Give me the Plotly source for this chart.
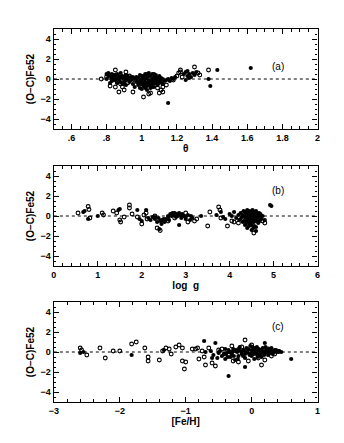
import plotly.graph_objects as go

# Panel (a): theta vs residual
a_fill_x = [0.80,0.81,0.82,0.83,0.83,0.84,0.85,0.85,0.86,0.86,0.87,0.87,0.88,0.88,0.89,0.89,0.90,0.90,0.91,0.91,0.92,0.93,0.94,0.94,0.95,0.96,0.96,
            0.97,0.98,0.98,0.99,0.99,1.00,1.00,1.00,1.01,1.01,1.02,1.02,1.02,1.03,1.03,1.03,1.04,1.04,1.04,1.05,1.05,1.05,1.06,1.06,1.06,1.07,1.07,1.07,1.08,1.08,1.09,1.09,1.10,1.10,1.11,1.12,1.13,1.14,1.15,1.16,1.17,1.18,1.19,1.15,
            1.24,1.25,1.25,1.26,1.26,1.27,1.27,1.28,1.29,1.30,1.31,1.38,1.39,1.43,1.62,
            0.80,0.81,0.82,0.83,0.84,0.84,0.85,0.86,0.87,0.88,0.89,0.90,0.91,0.92,0.93,0.95,0.97,0.98,0.99,1.00,1.01,1.01,1.02,1.03,1.04,1.05,1.06,1.07,1.08,1.09,1.10,1.11,1.12,1.00,1.02,1.04,1.06,1.08,0.99,1.03]
a_fill_y = [0.5,0.6,0.3,0.1,-0.2,0.4,0.2,-0.1,-0.4,0.5,0.0,0.3,-0.3,0.6,0.1,-0.5,0.2,-0.2,0.4,-0.6,0.0,-0.3,-0.1,0.2,-0.5,0.0,-0.8,
            -0.3,-0.6,0.1,-0.9,-0.2,0.3,-0.5,-1.0,0.0,-0.7,0.5,-0.3,-0.9,0.2,-0.4,-1.1,0.6,-0.1,-0.6,0.3,-0.3,-0.9,0.5,0.0,-0.5,0.2,-0.2,-0.8,0.4,-0.4,0.1,-0.6,0.3,-0.1,-0.3,0.0,-0.2,-0.1,0.0,-0.2,0.1,0.0,0.2,-2.4,
            0.5,0.7,-0.1,0.3,0.8,0.1,0.5,0.2,0.6,0.4,0.7,0.0,-0.7,0.9,1.1,
            0.0,0.3,-0.4,0.5,-0.1,0.2,0.4,0.1,-0.2,0.2,0.3,-0.4,0.0,0.3,0.1,0.2,0.2,-0.1,-0.5,-0.2,0.3,-0.4,0.0,-0.7,0.3,-0.6,-0.2,0.5,-0.1,-0.3,-0.4,0.1,-0.5,0.0,-0.6,-0.3,-0.8,0.1,0.4,0.5]
a_open_x = [0.77,0.80,0.82,0.83,0.85,0.85,0.86,0.87,0.88,0.89,0.90,0.91,0.92,0.93,0.95,0.96,0.99,1.01,1.02,1.04,1.05,1.07,1.09,1.10,1.11,1.12,1.12,1.14,1.18,1.20,1.21,1.22,1.22,1.23,1.30,1.32,1.33,1.38]
a_open_y = [0.0,0.2,-0.7,0.0,0.9,-0.8,-0.3,-1.3,-0.5,-0.8,-1.1,0.7,-0.4,0.3,-1.3,-0.1,-0.4,-1.8,-0.7,-1.5,-1.4,-0.4,-0.9,-1.4,-1.1,-0.8,-1.3,-0.6,-0.1,0.3,0.6,0.9,0.7,0.2,1.2,0.6,0.4,0.9]

# Panel (b): log g vs residual
b_fill_x = [0.67,0.70,0.78,1.0,1.47,1.50,1.90,1.95,2.0,2.1,2.15,2.2,2.25,2.3,2.35,2.38,2.4,2.42,2.45,2.5,2.52,2.55,2.6,2.62,2.65,2.68,2.7,2.72,2.75,2.78,2.8,2.82,2.85,2.85,2.88,2.9,2.92,2.95,3.0,3.05,3.1,3.12,3.15,3.35,
            3.7,3.8,3.85,3.9,4.0,4.05,4.1,4.15,4.2,4.22,4.25,4.28,4.3,4.32,4.34,4.35,4.36,4.38,4.4,4.4,4.42,4.43,4.45,4.45,4.47,4.48,4.5,4.5,4.52,4.53,4.55,4.56,4.57,4.6,4.6,4.62,4.63,4.65,4.67,4.7,4.72,4.75,4.8,4.92,4.95,
            4.25,4.3,4.33,4.35,4.38,4.4,4.42,4.44,4.46,4.48,4.5,4.52,4.54,4.56,4.58,4.6,4.62,4.64,4.66,4.68,4.7,4.45,4.5,4.55,4.4,4.35,4.6,4.65,4.5,4.55,
            2.3,2.5,2.7,2.8,2.9,3.0,2.45,2.6]
b_fill_y = [0.4,0.5,-0.3,0.0,0.6,0.7,0.6,-0.3,-0.5,0.6,-0.2,-0.4,-0.1,-0.3,-0.6,-0.2,-1.3,-0.5,-0.8,-0.3,-0.6,-0.3,0.0,-0.4,0.2,0.0,0.3,0.1,0.3,-0.1,0.2,0.0,-0.9,0.3,0.1,-0.2,0.2,0.0,-0.3,0.1,-0.4,0.0,-0.2,0.0,
            0.1,0.4,-0.1,-0.3,0.2,0.0,0.4,-0.2,0.1,-0.4,0.3,-0.1,-0.6,0.5,0.0,-0.9,-0.3,0.2,-1.2,0.6,-0.5,0.1,-0.1,-0.8,0.4,-0.3,-1.4,0.0,0.6,-0.6,0.2,-1.0,-0.2,-1.5,0.5,-0.4,0.1,-0.7,0.3,-0.1,-0.3,0.0,-0.4,1.1,1.0,
            -0.3,0.1,-0.5,0.4,-0.7,-0.2,0.3,-1.0,0.0,-0.6,0.3,-0.3,-1.2,0.4,-0.5,-0.1,0.3,-0.2,0.1,-0.5,0.2,0.5,-0.9,-0.6,-0.5,-0.1,-1.1,-0.4,-0.2,0.0,
            -0.1,-0.5,0.2,0.1,0.1,-0.1,-0.4,-0.1]
b_open_x = [0.55,0.78,0.80,0.82,1.1,1.13,1.35,1.43,1.5,1.52,1.6,1.72,1.72,1.78,1.9,2.0,2.05,2.1,2.12,2.3,2.35,2.42,2.6,2.75,3.0,3.05,3.2,3.25,3.5,3.55,3.75,3.78,3.8,3.95,4.05,4.1,4.2,4.3,4.4,4.55,4.65,4.7,4.75,4.8]
b_open_y = [0.3,0.95,0.65,-0.2,0.3,0.1,0.5,0.3,-0.4,-0.6,-0.1,1.1,0.8,0.2,-0.1,-0.8,0.1,0.3,-0.3,0.0,-1.2,-1.45,-0.5,-0.2,0.3,-0.6,-0.5,-0.3,-1.0,0.4,0.9,0.6,-0.2,-1.0,-0.5,-0.6,-0.7,0.3,-0.2,-1.7,-0.5,-0.2,-0.5,-0.7]

# Panel (c): [Fe/H] vs residual
c_fill_x = [-2.6,-2.55,-1.82,-1.33,-0.72,-0.7,-0.62,-0.6,-0.55,-0.5,-0.45,-0.4,-0.38,-0.35,-0.35,-0.32,-0.3,-0.28,-0.25,-0.22,-0.2,-0.18,-0.15,-0.12,-0.1,-0.1,-0.08,-0.05,-0.02,0.0,0.0,0.02,0.04,0.05,0.07,0.08,0.1,0.12,0.14,0.15,0.17,0.2,0.2,0.22,0.25,0.27,0.3,0.32,0.35,0.38,0.4,0.42,0.45,0.6,-0.3,-0.25,-0.15,0.05,-0.05,
            -0.58,-0.52,-0.48,-0.42,-0.36,-0.33,-0.27,-0.24,-0.21,-0.17,-0.13,-0.09,-0.06,-0.03,0.01,0.03,0.06,0.09,0.11,0.13,0.16,0.19,0.21,0.24,0.26,0.29,0.31,0.34,0.37,0.41,-0.2,-0.1,0.0,0.1,0.2,-0.4,-0.3,0.05,0.15,0.25]
c_fill_y = [-0.1,0.0,-0.3,0.2,1.1,0.0,0.1,-0.6,0.9,-0.1,-0.4,-0.7,-0.1,-2.4,0.2,-0.5,-0.1,0.3,-0.8,0.0,-0.4,0.5,-0.2,0.2,-1.5,-0.6,0.4,-0.1,0.6,-0.4,0.2,0.0,-0.7,0.3,-0.2,0.5,0.0,-0.3,0.2,-0.5,0.4,0.9,-0.1,0.2,-0.3,0.1,0.4,-0.2,0.2,0.0,0.1,0.1,0.0,-0.7,0.0,0.1,0.0,-0.05,0.25,
            -0.3,-0.6,0.1,-0.2,-0.5,0.0,-0.4,0.2,-0.7,0.1,-0.4,0.0,0.3,-0.3,0.5,-0.2,0.1,-0.5,0.3,0.0,0.1,-0.3,0.5,0.0,0.3,-0.1,0.1,0.0,0.2,0.0,0.3,-0.2,-0.1,0.2,0.0,0.3,-0.3,0.4,-0.1,0.1]
c_open_x = [-2.6,-2.58,-2.5,-2.3,-2.22,-2.1,-2.0,-1.82,-1.75,-1.62,-1.57,-1.57,-1.4,-1.35,-1.3,-1.25,-1.22,-1.15,-1.1,-1.05,-1.05,-1.0,-1.02,-0.9,-0.85,-0.82,-0.8,-0.75,-0.72,-0.7,-0.6,-0.55,-0.65,-0.45,-0.4,-0.3,-0.28,-0.2,-0.15,-0.1,-0.05,0.0,0.1,0.15,0.2,0.25,0.3,0.35,-0.35,-0.5]
c_open_y = [0.4,0.2,-0.3,0.4,-0.6,0.1,0.1,0.8,1.0,0.4,-0.5,-0.9,-0.8,0.1,0.4,0.3,-0.2,0.5,0.7,0.4,-0.9,-1.0,-1.7,0.3,0.3,0.4,-0.7,0.1,-0.5,-1.3,-1.1,-1.4,0.4,0.3,-0.2,0.6,-0.9,-1.0,0.5,1.2,-0.9,0.7,-0.6,-1.3,-0.8,0.3,-0.4,-0.2,-0.3,0.2]

a_tickvals = [0.6, 0.8, 1.0, 1.2, 1.4, 1.6, 1.8, 2.0]
a_ticktext = [".6", ".8", "1", "1.2", "1.4", "1.6", "1.8", "2"]
panel_labels = ["(a)", "(b)", "(c)"]
x_titles = ["θ", "log  g", "[Fe/H]"]
y_title = "(O−C)Fe52"

W, H = 344, 443
xdom = [50 / W, 320 / W]
ydoms = [[1 - 129 / H, 1 - 29 / H], [1 - 266 / H, 1 - 166 / H], [1 - 402 / H, 1 - 302 / H]]

fig = go.Figure()
panels = [(a_fill_x, a_fill_y, a_open_x, a_open_y),
          (b_fill_x, b_fill_y, b_open_x, b_open_y),
          (c_fill_x, c_fill_y, c_open_x, c_open_y)]
for i, (fx, fy, ox, oy) in enumerate(panels):
    xa = "x" if i == 0 else f"x{i+1}"
    ya = "y" if i == 0 else f"y{i+1}"
    fig.add_trace(go.Scatter(x=ox, y=oy, mode="markers", xaxis=xa, yaxis=ya,
                             marker=dict(symbol="circle-open", size=3.8, color="black", line=dict(width=1.1)), showlegend=False))
    fig.add_trace(go.Scatter(x=fx, y=fy, mode="markers", xaxis=xa, yaxis=ya,
                             marker=dict(symbol="circle", size=4.2, color="black"), showlegend=False))
    fig.add_shape(type="line", xref=f"{xa} domain", yref=ya, x0=0, x1=1, y0=0, y1=0,
                  line=dict(color="black", width=1, dash="dot"), layer="below")

font = dict(family="Liberation Sans, Arial, sans-serif", size=9, color="black", weight="bold")
axis_common = dict(showline=True, linecolor="black", linewidth=1.3, mirror="ticks",
                   ticks="inside", ticklen=5, tickwidth=1, tickcolor="black",
                   showgrid=False, zeroline=False, tickfont=font, fixedrange=True)

layout = dict(width=W, height=H, margin=dict(l=0, r=0, t=0, b=0),
              paper_bgcolor="white", plot_bgcolor="white", font=font)

x_ranges = [[0.5, 2.0], [0, 6], [-3, 1]]
x_minor = [0.05, 0.2, 0.2]
x_dtick = [0.2, 1, 1]
y_pos_label = [0.70, 0.83, 0.83]
for i in range(3):
    sx = "" if i == 0 else str(i + 1)
    xax = dict(axis_common, domain=xdom, range=x_ranges[i], anchor=f"y{sx}",
               minor=dict(dtick=x_minor[i], ticklen=2.5, ticks="inside", tickcolor="black"),
               title=dict(text=x_titles[i], font=dict(font, size=10), standoff=0))
    if i == 0:
        xax.update(tickmode="array", tickvals=a_tickvals, ticktext=a_ticktext)
    else:
        xax.update(dtick=x_dtick[i], tick0=0)
    yax = dict(axis_common, domain=ydoms[i], range=[-5, 5], anchor=f"x{sx}", dtick=2, tick0=0,
               minor=dict(dtick=0.5, ticklen=2.5, ticks="inside", tickcolor="black"),
               title=dict(text=y_title, font=dict(font, size=10), standoff=4))
    layout[f"xaxis{sx}"] = xax
    layout[f"yaxis{sx}"] = yax

fig.update_layout(**layout)
for i in range(3):
    sx = "" if i == 0 else str(i + 1)
    fig.add_annotation(text=panel_labels[i], xref=f"x{sx} domain", yref=f"y{sx} domain",
                       x=0.88, y=y_pos_label[i], showarrow=False,
                       font=dict(family="Liberation Sans, Arial, sans-serif", size=10, color="black", weight="normal"))

fig.write_html("out.html", config={"displayModeBar": False},
               post_script="document.body.style.margin='0';document.body.style.padding='0';")
